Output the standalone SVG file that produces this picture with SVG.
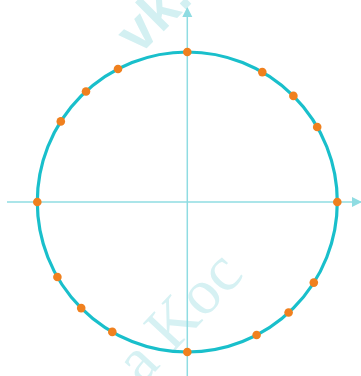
<svg xmlns="http://www.w3.org/2000/svg" width="361" height="376" viewBox="0 0 361 376">
<style>
.axis{stroke:#8fdce2;stroke-width:1.5;fill:none}
.circ{stroke:#19bfcb;stroke-width:3.2;fill:none}
.dot{fill:#f0801e}
.wm{fill:#d3f0f2;font-family:"Liberation Sans",sans-serif;font-weight:bold}
.wm2{fill:#d6f1f3;font-family:"Liberation Serif",serif}
</style>
<defs>
<marker id="arr" viewBox="0 0 10 10" refX="9" refY="5" markerWidth="10" markerHeight="13" markerUnits="userSpaceOnUse" orient="auto">
<path d="M0,0 L10,5 L0,10 Z" fill="#8fdce2"/>
</marker>
</defs>
<g id="watermark">
<text class="wm" x="0" y="0" font-size="56" transform="translate(139,56) rotate(-45)">vk.</text>
<text class="wm2" x="0" y="0" font-size="64" transform="translate(142,386) rotate(-47)">a Koc</text>
</g>
<g id="connectors">
<line class="axis" x1="7" y1="202" x2="361" y2="202" marker-end="url(#arr)"/>
<line class="axis" x1="187.3" y1="376" x2="187.3" y2="8" marker-end="url(#arr)"/>
</g>
<g id="circle">
<circle class="circ" cx="187.3" cy="202" r="150"/>
</g>
<g id="points">
<circle class="dot" cx="337.3" cy="202" r="4.3"/>
<circle class="dot" cx="317.2" cy="127" r="4.3"/>
<circle class="dot" cx="293.4" cy="95.9" r="4.3"/>
<circle class="dot" cx="262.3" cy="72.1" r="4.3"/>
<circle class="dot" cx="187.3" cy="52" r="4.3"/>
<circle class="dot" cx="118" cy="69" r="4.3"/>
<circle class="dot" cx="86" cy="91.5" r="4.3"/>
<circle class="dot" cx="60.8" cy="121.4" r="4.3"/>
<circle class="dot" cx="37.3" cy="202" r="4.3"/>
<circle class="dot" cx="57.4" cy="277" r="4.3"/>
<circle class="dot" cx="81.2" cy="308.1" r="4.3"/>
<circle class="dot" cx="112.3" cy="331.9" r="4.3"/>
<circle class="dot" cx="187.3" cy="352" r="4.3"/>
<circle class="dot" cx="256.6" cy="335" r="4.3"/>
<circle class="dot" cx="288.6" cy="312.5" r="4.3"/>
<circle class="dot" cx="313.8" cy="282.6" r="4.3"/>
</g>
</svg>
